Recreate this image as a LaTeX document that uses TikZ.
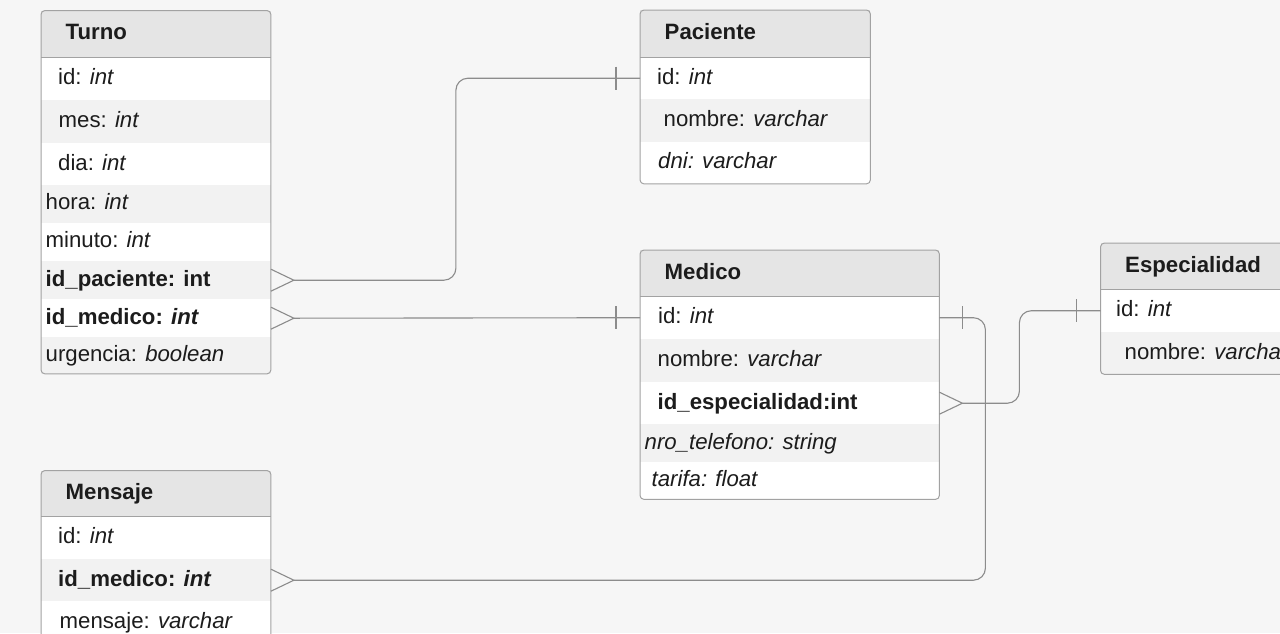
\documentclass[tikz,border=0pt]{standalone}
\usepackage{fontspec}
\setmainfont{Liberation Sans}
\usetikzlibrary{calc}
\definecolor{bg}{HTML}{F6F6F6}
\definecolor{hdrfill}{HTML}{E5E5E5}
\definecolor{rowgray}{HTML}{F2F2F2}
\definecolor{boxline}{HTML}{A2A2A2}
\definecolor{connline}{HTML}{8C8C8C}
\definecolor{ink}{HTML}{1C1C1C}
% #1 name, #2 x, #3 y, #4 width, #5 height, #6 fill, #7 indent, #8 text
\newcommand\tblrow[8]{%
  \node[rowbox, fill=#6, minimum width=#4pt, minimum height=#5pt] (#1) at (#2,#3) {};
  \node[txt] (#1-t) at ($(#1.west)+(#7,0)$) {#8};}
\newcommand\tblhead[6]{%
  \node[rowbox, fill=hdrfill, minimum width=#4pt, minimum height=#5pt] (#1) at (#2,#3) {};
  \node[txt, font=\fontsize{22.2}{26}\selectfont\bfseries] (#1-t) at ($(#1.west)+(24.5,0)$) {#6};}
\begin{document}
\begin{tikzpicture}[x=1pt,y=-1pt,
  rowbox/.style={rectangle, draw=none, inner sep=0pt, anchor=north west},
  txt/.style={anchor=west, inner sep=0pt, text height=16.5pt, text depth=4.8pt,
    text=ink, font=\fontsize{22.2}{26}\selectfont},
  frame/.style={draw=boxline, line width=1pt, rounded corners=4pt},
  sepline/.style={draw=boxline, line width=1pt},
  conn/.style={draw=connline, line width=1.1pt},
  tick/.style={draw=connline, line width=1.1pt}]
\useasboundingbox (0,0) rectangle (1280,633);
\fill[bg] (0,0) rectangle (1280,633);
\clip (0,0) rectangle (1280,633);

% ---------- Turno ----------
\tblhead{turno}{41}{10.5}{229.5}{46.5}{Turno}
\tblrow{tid}{41}{57}{229.5}{43}{white}{17}{id: \textit{int}}
\tblrow{tmes}{41}{100}{229.5}{43}{rowgray}{17.5}{mes: \textit{int}}
\tblrow{tdia}{41}{143}{229.5}{42}{white}{17}{dia: \textit{int}}
\tblrow{thora}{41}{185}{229.5}{37.5}{rowgray}{4.5}{hora: \textit{int}}
\tblrow{tmin}{41}{222.5}{229.5}{38.5}{white}{4.5}{minuto: \textit{int}}
\tblrow{tpac}{41}{261}{229.5}{38}{rowgray}{4.5}{\textbf{id\_paciente: int}}
\tblrow{tmed}{41}{299}{229.5}{38}{white}{4.5}{\textbf{id\_medico: \textit{int}}}
\tblrow{turg}{41}{337}{229.5}{36.5}{rowgray}{4.5}{urgencia: \textit{boolean}}
\draw[frame] (turno.north west) rectangle (turg.south east);
\draw[sepline] (turno.south west) -- (turno.south east);

% ---------- Paciente ----------
\tblhead{pac}{640}{10}{230}{47}{Paciente}
\tblrow{pid}{640}{57}{230}{42}{white}{17}{id: \textit{int}}
\tblrow{pnom}{640}{99}{230}{42.5}{rowgray}{23.5}{nombre: \textit{varchar}}
\tblrow{pdni}{640}{141.5}{230}{42}{white}{18}{\textit{dni: varchar}}
\draw[frame] (pac.north west) rectangle (pdni.south east);
\draw[sepline] (pac.south west) -- (pac.south east);

% ---------- Medico ----------
\tblhead{med}{640}{250}{299}{46}{Medico}
\tblrow{mid}{640}{296}{299}{43}{white}{18}{id: \textit{int}}
\tblrow{mnom}{640}{339}{299}{43}{rowgray}{17.5}{nombre: \textit{varchar}}
\tblrow{mesp}{640}{382}{299}{42}{white}{17.5}{\textbf{id\_especialidad:int}}
\tblrow{mtel}{640}{424}{299}{38}{rowgray}{4.5}{\textit{nro\_telefono: string}}
\tblrow{mtar}{640}{462}{299}{37}{white}{11.5}{\textit{tarifa: float}}
\draw[frame] (med.north west) rectangle (mtar.south east);
\draw[sepline] (med.south west) -- (med.south east);

% ---------- Especialidad ----------
\tblhead{esp}{1100.5}{243}{230}{46}{Especialidad}
\tblrow{eid}{1100.5}{289}{230}{43}{white}{15.5}{id: \textit{int}}
\tblrow{enom}{1100.5}{332}{230}{42}{rowgray}{24}{nombre: \textit{varchar}}
\draw[frame] (esp.north west) rectangle (enom.south east);
\draw[sepline] (esp.south west) -- (esp.south east);

% ---------- Mensaje ----------
\tblhead{men}{41}{470.5}{229.5}{45.5}{Mensaje}
\tblrow{nid}{41}{516}{229.5}{43}{white}{17}{id: \textit{int}}
\tblrow{nmed}{41}{559}{229.5}{42}{rowgray}{17}{\textbf{id\_medico: \textit{int}}}
\tblrow{nmsg}{41}{601}{229.5}{43}{white}{18.5}{mensaje: \textit{varchar}}
\draw[frame] (men.north west) rectangle (nmsg.south east);
\draw[sepline] (men.south west) -- (men.south east);

% ---------- Connectors ----------
% Turno.id_paciente >-- Paciente.id
\coordinate (cfA) at ($(tpac.east)+(23,0)$);
\coordinate (bendA) at ($(tpac.east)+(185,0)$);
\draw[conn] ($(tpac.east)+(0,-11)$) -- (cfA) -- ($(tpac.east)+(0,11)$);
\draw[conn, rounded corners=12pt] (cfA) -- (bendA) |- (pid.west);
\draw[tick] ($(pid.west)+(-24,-11.5)$) -- ($(pid.west)+(-24,11.5)$);

% Turno.id_medico >-- Medico.id
\coordinate (cfB) at ($(tmed.east)+(23,0)$);
\draw[conn] ($(tmed.east)+(0,-11)$) -- (cfB) -- ($(tmed.east)+(0,11)$);
\draw[conn] (cfB) -- (mid.west);
\draw[tick] ($(mid.west)+(-24,-11.5)$) -- ($(mid.west)+(-24,11.5)$);

% Mensaje.id_medico >-- Medico.id
\coordinate (cfC) at ($(nmed.east)+(23,0)$);
\coordinate (bendC) at ($(mid.east)+(46,0)$);
\draw[conn] ($(nmed.east)+(0,-11)$) -- (cfC) -- ($(nmed.east)+(0,11)$);
\draw[conn, rounded corners=12pt] (mid.east) -- (bendC) |- (cfC);
\draw[tick] ($(mid.east)+(23,-11.5)$) -- ($(mid.east)+(23,11.5)$);

% Medico.id_especialidad >-- Especialidad.id
\coordinate (cfD) at ($(mesp.east)+(23,0)$);
\coordinate (bendD) at ($(mesp.east)+(80,0)$);
\draw[conn] ($(mesp.east)+(0,-11)$) -- (cfD) -- ($(mesp.east)+(0,11)$);
\draw[conn, rounded corners=12pt] (cfD) -- (bendD) |- (eid.west);
\draw[tick] ($(eid.west)+(-24,-11.5)$) -- ($(eid.west)+(-24,11.5)$);
\end{tikzpicture}
\end{document}
